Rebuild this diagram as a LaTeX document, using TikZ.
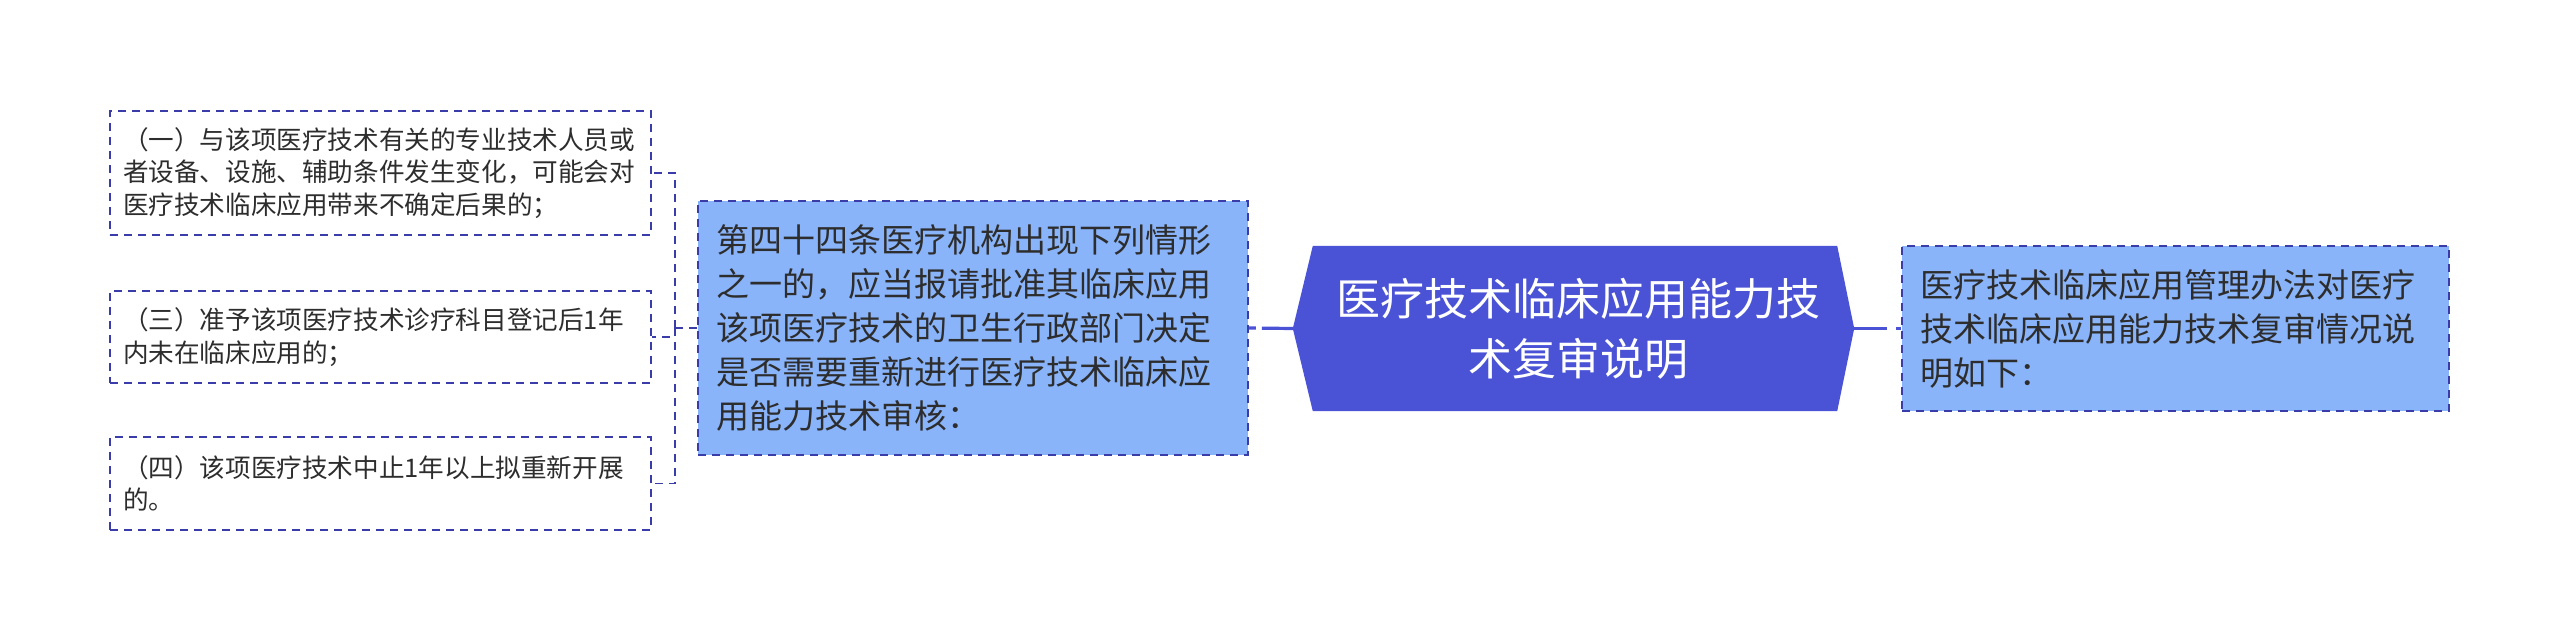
\documentclass[tikz,border=0pt]{standalone}
\usepackage{fontspec}
\newfontfamily\cjk{Noto Sans CJK SC}
\usetikzlibrary{backgrounds}
\definecolor{mainblue}{RGB}{74,82,214}
\definecolor{lightblue}{RGB}{138,180,250}
\definecolor{borderblue}{RGB}{58,60,170}
\definecolor{txt}{RGB}{45,45,45}
\tikzset{
  leafbox/.style={draw=borderblue, line width=1.8pt, dash pattern=on 8pt off 6pt, fill=white,
    inner xsep=13pt, inner ysep=0pt, text width=515pt, align=left, text=txt,
    font=\cjk\fontsize{25.6pt}{32.5pt}\selectfont},
  subbox/.style={draw=borderblue, line width=1.8pt, dash pattern=on 8pt off 6pt, fill=lightblue,
    inner xsep=18pt, inner ysep=0pt, align=left, text=txt,
    font=\cjk\fontsize{33pt}{44pt}\selectfont},
  centerbox/.style={inner sep=0pt, minimum width=561pt, minimum height=165pt, align=center,
    text=white, font=\cjk\fontsize{44pt}{60pt}\selectfont},
  conn/.style={draw=mainblue, line width=3.2pt},
  treeline/.style={draw=borderblue, line width=1.8pt, dash pattern=on 8pt off 6pt},
}
\begin{document}
\begin{tikzpicture}[x=1pt,y=-1pt]
\useasboundingbox (0,0) rectangle (2560,640);
\node[leafbox, minimum height=124pt] (b1) at (380.5,173) {（一）与该项医疗技术有关的专业技术人员或\\者设备、设施、辅助条件发生变化，可能会对\\医疗技术临床应用带来不确定后果的；};
\node[leafbox, minimum height=92pt] (b3) at (380.5,337) {（三）准予该项医疗技术诊疗科目登记后1年\\内未在临床应用的；};
\node[leafbox, minimum height=93pt] (b4) at (380.5,483.5) {（四）该项医疗技术中止1年以上拟重新开展\\的。};
\node[subbox, text width=514pt, minimum height=254pt] (m) at (973,328) {第四十四条医疗机构出现下列情形\\之一的，应当报请批准其临床应用\\该项医疗技术的卫生行政部门决定\\是否需要重新进行医疗技术临床应\\用能力技术审核：};
\node[centerbox] (c) at (1573.5,328.5) {\hspace*{10pt}医疗技术临床应用能力技\\\hspace*{10pt}术复审说明};
\node[subbox, text width=511pt, minimum height=165pt] (r) at (2175.5,328.5) {医疗技术临床应用管理办法对医疗\\技术临床应用能力技术复审情况说\\明如下：};
\begin{scope}[on background layer]
\fill[mainblue] (c.west) -- ([xshift=20pt]c.north west) -- ([xshift=-17pt]c.north east) -- (c.east)
  -- ([xshift=-17pt]c.south east) -- ([xshift=20pt]c.south west) -- cycle;
\end{scope}
\coordinate (j) at (675,328);
\draw[treeline] (m.west) -- (j);
\draw[treeline] (j) |- (b1.east);
\draw[treeline] (j) |- (b3.east);
\draw[treeline] (j) |- (b4.east);
\draw[conn, dash pattern=on 31pt off 6pt on 12pt] (c.west) -- (m.east);
\draw[conn, dash pattern=on 33pt off 9pt on 10pt] (c.east) -- (r.west);
\end{tikzpicture}
\end{document}
